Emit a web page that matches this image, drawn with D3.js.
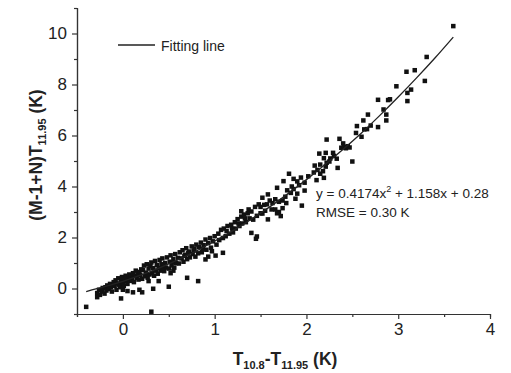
<!DOCTYPE html>
<html>
<head>
<meta charset="utf-8">
<script src="https://cdn.jsdelivr.net/npm/d3@7"></script>
<style>
  body { margin: 0; background: #fff; }
  svg { font-family: "Liberation Sans", Arial, sans-serif; }
</style>
</head>
<body>
<div id="content"></div>
<script>
const svgWidth = 511, svgHeight = 373;

// axis ticks
const xMajor = [0, 1, 2, 3, 4];
const xMinor = [-0.5, 0.5, 1.5, 2.5, 3.5];
const yMajor = [0, 2, 4, 6, 8, 10];
const yMinor = [-1, 1, 3, 5, 7, 9, 11];

// fitting line
const fitX = [-0.4, -0.2, 0, 0.2, 0.4, 0.6, 0.8, 1.0, 1.2, 1.4, 1.6, 1.8, 2.0, 2.2, 2.4, 2.6, 2.8, 3.0, 3.2, 3.4, 3.6];
const fitY = [-0.12, 0.07, 0.28, 0.53, 0.81, 1.13, 1.47, 1.86, 2.27, 2.72, 3.2, 3.72, 4.27, 4.85, 5.46, 6.1, 6.79, 7.51, 8.26, 9.04, 9.86];

// scatter samples [x, y]
const samples = [
  [-0.28,-0.18],[-0.26,-0.05],[-0.25,-0.25],[-0.23,-0.12],[-0.22,0.02],[-0.2,-0.2],[-0.19,0.05],[-0.18,-0.08],
  [-0.17,0.12],[-0.15,-0.02],[-0.14,0.18],[-0.13,0.05],[-0.12,-0.12],[-0.1,0.25],[-0.09,0.1],[-0.08,0.32],
  [-0.07,-0.05],[-0.06,0.2],[-0.05,0.4],[-0.04,0.15],[-0.03,0.05],[-0.02,0.3],[-0.01,0.45],[0,0.22],
  [0.01,0.1],[0.02,0.35],[0.03,0.5],[0.04,0.28],[0.05,0.18],[0.06,0.42],[0.07,0.55],[0.08,0.3],
  [0.09,0.48],[0.1,0.38],[0.11,0.6],[0.12,0.25],[0.13,0.5],[0.14,0.7],[0.15,0.42],[0.16,0.58],
  [0.17,0.35],[0.18,0.65],[0.19,0.52],[0.2,0.75],
  [0.21,0.38],[0.22,0.72],[0.23,0.9],[0.24,0.48],[0.25,0.62],[0.26,0.95],[0.27,0.42],[0.28,0.78],
  [0.29,0.55],[0.3,0.88],[0.31,1.02],[0.32,0.6],[0.33,0.8],[0.34,0.5],[0.35,1.08],[0.36,0.7],
  [0.37,0.92],[0.38,0.58],[0.4,1.12],[0.41,0.7],[0.42,0.95],[0.43,1.18],[0.45,0.68],[0.46,1.0],
  [0.47,0.82],[0.48,1.22],[0.5,0.78],[0.51,1.05],[0.52,1.3],[0.53,0.9],[0.55,1.15],[0.56,0.82],
  [0.57,1.35],[0.58,1.0],[0.6,1.2],[0.44,0.88],[0.39,0.8],[0.54,1.02],
  [0.61,0.98],[0.62,1.42],[0.64,1.18],[0.65,1.5],[0.66,1.05],[0.68,1.32],[0.69,1.58],[0.7,1.15],
  [0.72,1.45],[0.73,1.22],[0.75,1.65],[0.76,1.35],[0.78,1.55],[0.79,1.25],[0.8,1.72],[0.82,1.38],
  [0.83,1.62],[0.85,1.8],[0.86,1.42],[0.88,1.7],[0.9,1.92],[0.91,1.52],[0.93,1.78],[0.95,1.98],
  [0.96,1.6],[0.98,1.85],[1.0,2.05],[0.67,1.28],[0.77,1.48],[0.87,1.55],[0.71,1.38],
  [1.02,1.72],[1.04,2.15],[1.05,1.9],[1.07,2.3],[1.09,1.98],[1.1,2.35],[1.12,2.05],[1.14,2.45],
  [1.16,2.15],[1.18,2.5],[1.2,2.2],[1.22,2.6],[1.23,2.35],[1.25,2.72],[1.27,2.45],[1.29,2.82],
  [1.3,2.55],[1.32,2.9],[1.34,2.6],[1.36,2.95],[1.38,2.75],[1.4,3.02],[1.42,2.7],[1.44,3.2],
  [1.46,2.85],[1.48,3.3],[1.5,2.95],[1.13,2.25],[1.19,2.35],[1.26,2.55],[1.33,2.75],
  [1.29,3.03],[1.37,3.1],[1.45,1.95],[1.46,2.04],[1.4,2.18],[1.09,1.4],[0.97,1.46],[1.01,1.29],
  [0.9,1.14],[0.93,1.25],[0.7,0.42],[0.82,0.29],[0.5,0.07],[0.33,-0.01],[0.28,0.29],[0.39,0.29],
  [0.26,0.55],[0.52,0.6],[0.55,0.7],[0.43,0.81],[0.0,-0.05],[0.05,-0.1],[0.11,-0.15],[0.18,-0.05],
  [0.21,-0.15],[-0.02,-0.39],[-0.28,-0.34],[-0.4,-0.72],[0.31,-0.91],
  [1.52,3.56],[1.58,3.69],[1.6,3.45],[1.63,3.35],[1.66,3.5],[1.7,3.4],[1.74,3.45],[1.78,3.35],
  [1.5,3.2],[1.54,3.28],[1.57,3.3],[1.66,3.1],[1.7,3.0],[1.74,3.15],[1.68,2.95],[1.72,2.84],
  [1.52,2.94],[1.58,2.71],[1.68,3.95],[1.75,4.21],[1.79,3.85],[1.83,3.75],[1.86,3.9],[1.9,3.72],
  [1.98,3.84],[1.88,3.52],[1.95,3.25],[1.81,4.5],[1.86,4.3],[1.9,4.2],[1.94,4.35],[1.98,4.15],
  [2.02,4.4],[1.92,4.05],[1.84,4.0],[1.62,3.1],[1.77,3.6],[1.55,3.05],
  [2.08,4.55],[2.12,4.65],[2.15,4.5],[2.18,4.6],[2.11,4.25],[2.19,4.34],[2.09,4.82],[2.15,4.86],
  [2.22,4.93],[2.21,4.78],[2.34,4.73],[2.14,5.29],[2.21,5.32],[2.29,5.32],[2.19,5.11],[2.26,5.1],
  [2.33,5.09],[2.22,5.84],[2.36,5.87],[2.4,5.69],[2.38,5.52],[2.41,5.55],[2.43,5.5],[2.45,5.58],
  [2.47,5.53],[2.5,4.98],[2.3,5.2],[2.25,4.98],
  [2.54,6.1],[2.6,5.95],[2.55,6.37],[2.63,6.24],[2.66,6.25],[2.7,6.39],[2.78,6.33],[2.62,6.59],
  [2.87,6.59],[2.67,6.82],[2.87,6.82],[2.84,7.02],[2.78,7.4],[2.89,7.39],[2.91,7.42],[3.1,7.35],
  [3.1,7.67],[3.14,7.8],[2.98,7.93],[3.29,8.14],[3.09,8.5],[3.18,8.56],[3.31,9.08],[3.6,10.29]
];

const svg = d3.select("#content").append("svg")
  .attr("width", svgWidth)
  .attr("height", svgHeight);

const x = d3.scaleLinear().domain([-0.5, 4]).range([77, 490]);
const y = d3.scaleLinear().domain([-1, 11]).range([314, 8]);

const axisColor = "#333";

// minor ticks
svg.append("g").attr("transform", "translate(0,314)")
  .call(d3.axisBottom(x).tickValues(xMinor).tickSize(3).tickFormat(""));
svg.append("g").attr("transform", "translate(77,0)")
  .call(d3.axisLeft(y).tickValues(yMinor).tickSize(3).tickFormat(""));

// major ticks
svg.append("g").attr("transform", "translate(0,314)")
  .call(d3.axisBottom(x).tickValues(xMajor).tickSize(5).tickPadding(4).tickSizeOuter(0).tickFormat(d3.format("d")));
svg.append("g").attr("transform", "translate(77,0)")
  .call(d3.axisLeft(y).tickValues(yMajor).tickSize(5).tickPadding(5).tickSizeOuter(0).tickFormat(d3.format("d")));

svg.selectAll(".domain, .tick line").attr("stroke", axisColor).attr("stroke-width", 1.2);
svg.selectAll(".tick text").attr("fill", "#222").style("font-size", "17px")
  .style("font-family", "'Liberation Sans', Arial, sans-serif");

// scatter
svg.append("g").selectAll("rect")
  .data(samples).enter().append("rect")
  .attr("x", d => x(d[0]) - 2.25)
  .attr("y", d => y(d[1]) - 2.25)
  .attr("width", 4.5)
  .attr("height", 4.5)
  .attr("fill", "#111");

// fitting line
const fit = fitX.map((v, i) => [v, fitY[i]]);
svg.append("path")
  .datum(fit)
  .attr("fill", "none")
  .attr("stroke", "#222")
  .attr("stroke-width", 1.3)
  .attr("d", d3.line().x(d => x(d[0])).y(d => y(d[1])).curve(d3.curveCatmullRom));

// legend
svg.append("line")
  .attr("x1", 118).attr("x2", 155).attr("y1", 45).attr("y2", 45)
  .attr("stroke", "#222").attr("stroke-width", 1.3);
svg.append("text")
  .attr("x", 161).attr("y", 51)
  .style("font-size", "14px").attr("fill", "#222")
  .text("Fitting line");

// equation
const eq = svg.append("text").attr("x", 316).attr("y", 198)
  .style("font-size", "13.5px").attr("fill", "#222");
eq.append("tspan").text("y = 0.4174x");
eq.append("tspan").attr("dy", -6).style("font-size", "9px").text("2");
eq.append("tspan").attr("dy", 6).text(" + 1.158x + 0.28");
svg.append("text").attr("x", 316).attr("y", 217)
  .style("font-size", "13.5px").attr("fill", "#222")
  .text("RMSE = 0.30 K");

// axis titles
const xt = svg.append("text").attr("x", 285).attr("y", 365)
  .attr("text-anchor", "middle").style("font-size", "17.5px").style("font-weight", "bold").attr("fill", "#222");
xt.append("tspan").text("T");
xt.append("tspan").attr("dy", 4).style("font-size", "11px").text("10.8");
xt.append("tspan").attr("dy", -4).text("-T");
xt.append("tspan").attr("dy", 4).style("font-size", "11px").text("11.95");
xt.append("tspan").attr("dy", -4).text(" (K)");

const yt = svg.append("text").attr("transform", "translate(42,155) rotate(-90)")
  .attr("text-anchor", "middle").style("font-size", "17.5px").style("font-weight", "bold").attr("fill", "#222");
yt.append("tspan").text("(M-1+N)T");
yt.append("tspan").attr("dy", 4).style("font-size", "11px").text("11.95");
yt.append("tspan").attr("dy", -4).text(" (K)");
</script>
</body>
</html>
